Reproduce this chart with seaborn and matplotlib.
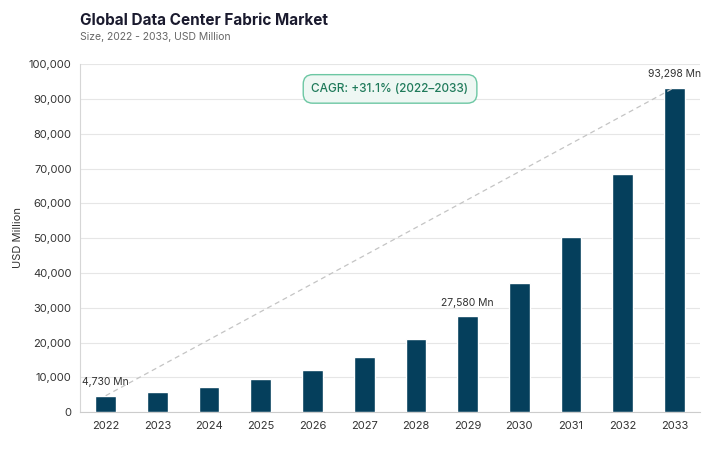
import matplotlib
matplotlib.use("Agg")
import matplotlib.pyplot as plt
import seaborn as sns
import pandas as pd

years = ["2022", "2023", "2024", "2025", "2026", "2027", "2028", "2029", "2030", "2031", "2032", "2033"]
market_size = [4730, 5800, 7300, 9500, 12200, 15900, 20900, 27580, 37100, 50200, 68400, 93298]
labelled = {"2022": "4,730 Mn", "2029": "27,580 Mn", "2033": "93,298 Mn"}
cagr_text = "CAGR: +31.1% (2022\u20132033)"

df = pd.DataFrame({"Year": years, "Size": market_size})

sns.set_style("white")
plt.rcParams["font.family"] = ["Inter", "DejaVu Sans"]

fig = plt.figure(figsize=(7.19, 4.49), dpi=100)
ax = fig.add_axes([0.111, 0.082, 0.863, 0.775])

sns.barplot(data=df, x="Year", y="Size", color="#053f5c", width=0.4,
            saturation=1, ax=ax, zorder=3)

ax.set_ylim(0, 100000)
ax.set_xlim(-0.5, len(years) - 0.5)
ax.set_yticks(range(0, 100001, 10000))
ax.yaxis.set_major_formatter(matplotlib.ticker.FuncFormatter(lambda v, p: f"{int(v):,}"))
ax.grid(axis="y", color="#e6e6e6", linewidth=0.8, zorder=0)
ax.tick_params(axis="both", length=0, labelsize=8, colors="#333333", pad=6)
for s in ["top", "right"]:
    ax.spines[s].set_visible(False)
ax.spines["left"].set_color("#d6d6d6")
ax.spines["bottom"].set_color("#cccccc")
ax.set_xlabel("")
ax.set_ylabel("")
fig.text(0.025, 0.47, "USD Million", rotation=90, fontsize=8, color="#333333",
         ha="center", va="center")

# trend line between first and last bar
ax.plot([0, len(years) - 1], [market_size[0], market_size[-1]], color="#c4c4c4",
        linestyle=(0, (4, 3)), linewidth=0.9, zorder=4)

for i, y in enumerate(years):
    if y in labelled:
        ax.annotate(labelled[y], (i, market_size[i]), xytext=(0, 6), textcoords="offset points",
                    ha="center", va="bottom", fontsize=7.5, color="#333333", zorder=5)

ax.text(5.5, 92900, cagr_text, ha="center", va="center", fontsize=8.5, color="#1f7a5a",
        fontweight="medium", zorder=6,
        bbox=dict(boxstyle="round,pad=0.7,rounding_size=0.8", facecolor="#eef7f3",
                  edgecolor="#6cc7a3", linewidth=1.0))

fig.text(0.111, 0.955, "Global Data Center Fabric Market", fontsize=11, fontweight="bold",
         color="#1a1a2e", ha="left", va="center")
fig.text(0.111, 0.918, "Size, 2022 - 2033, USD Million", fontsize=7.5, color="#666666",
         ha="left", va="center")

fig.savefig("out.png", dpi=100)
